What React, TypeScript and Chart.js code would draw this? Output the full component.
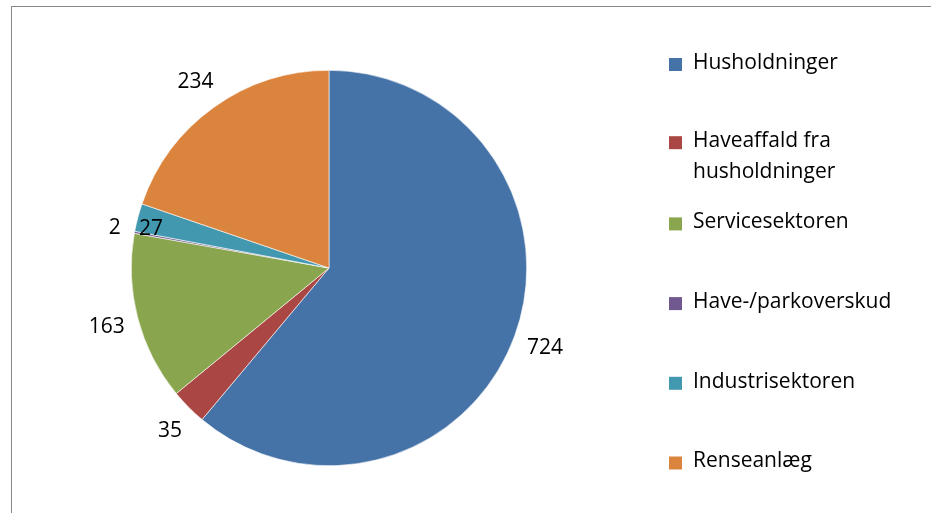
import React, { useEffect, useRef } from "react";
import { Chart, registerables } from "chart.js";

Chart.register(...registerables);

const categories = [
  "Husholdninger",
  "Haveaffald fra husholdninger",
  "Servicesektoren",
  "Have-/parkoverskud",
  "Industrisektoren",
  "Renseanlæg",
];
const values = [724, 35, 163, 2, 27, 234];
const colors = ["#4572A7", "#AA4643", "#89A54E", "#71588F", "#4198AF", "#DB843D"];

const FONT = '21px "Open Sans"';
const CAP_HALF = 7.3;

function wrap(ctx: CanvasRenderingContext2D, text: string, maxW: number): string[] {
  const words = text.split(" ");
  const lines: string[] = [];
  let cur = "";
  for (const w of words) {
    const t = cur ? cur + " " + w : w;
    if (ctx.measureText(t).width > maxW && cur) {
      lines.push(cur);
      cur = w;
    } else cur = t;
  }
  if (cur) lines.push(cur);
  return lines;
}

const framePlugin = {
  id: "frame",
  beforeDraw(chart: any) {
    const ctx = chart.ctx;
    ctx.save();
    ctx.fillStyle = "#ffffff";
    ctx.fillRect(0, 0, chart.width, chart.height);
    ctx.strokeStyle = "#888888";
    ctx.lineWidth = 1;
    ctx.strokeRect(11.5, 6.5, 3000, 3000);
    ctx.restore();
  },
};

const labelPlugin = {
  id: "pieLabels",
  afterDatasetsDraw(chart: any) {
    const ctx = chart.ctx;
    const meta = chart.getDatasetMeta(0);
    ctx.save();
    ctx.font = FONT;
    ctx.fillStyle = "#000000";
    ctx.textAlign = "center";
    ctx.textBaseline = "alphabetic";
    const placed: any[] = [];
    meta.data.forEach((arc: any, i: number) => {
      const p = arc.getProps(["x", "y", "startAngle", "endAngle", "outerRadius"], true);
      const mid = (p.startAngle + p.endAngle) / 2;
      const c = Math.cos(mid);
      const s = Math.sin(mid);
      const text = String(values[i]);
      const w = ctx.measureText(text).width;
      const hw = w / 2 + 1;
      const hh = 19;
      let cx = p.x + c * (p.outerRadius + 13) + c * hw;
      let cy = p.y + s * (p.outerRadius + 13) + s * hh;
      const th = 20;
      let box = { l: cx - w / 2, r: cx + w / 2, t: cy - th / 2, b: cy + th / 2, cy };
      for (const q of placed) {
        if (box.l < q.r && box.r > q.l && box.t < q.b && box.b > q.t) {
          cx = q.r + 18 + w / 2;
          cy = q.cy + 1;
          box = { l: cx - w / 2, r: cx + w / 2, t: cy - th / 2, b: cy + th / 2, cy };
        }
      }
      placed.push(box);
      ctx.fillText(text, cx, cy + CAP_HALF);
    });
    ctx.restore();
  },
};

const legendPlugin = {
  id: "customLegend",
  afterDraw(chart: any) {
    const ctx = chart.ctx;
    ctx.save();
    ctx.font = FONT;
    ctx.textAlign = "left";
    ctx.textBaseline = "alphabetic";
    const boxX = 669;
    const box = 13;
    const textX = 693;
    const firstY = 64.5;
    const step = 79.7;
    const lineH = 31;
    categories.forEach((label, i) => {
      const y = firstY + i * step - (i === 1 ? 1.5 : 0);
      ctx.fillStyle = colors[i];
      ctx.fillRect(boxX, y - box / 2, box, box);
      ctx.fillStyle = "#000000";
      const lines = wrap(ctx, label, 234);
      lines.forEach((ln, k) => ctx.fillText(ln, textX, y + 4.2 + k * lineH));
    });
    ctx.restore();
  },
};

export default function App() {
  const ref = useRef<HTMLCanvasElement | null>(null);
  useEffect(() => {
    if (!ref.current) return;
    const chart = new Chart(ref.current, {
      type: "pie",
      data: {
        labels: categories,
        datasets: [
          {
            data: values,
            backgroundColor: colors,
            borderColor: "#ffffff",
            borderWidth: 0.6,
          },
        ],
      },
      options: {
        responsive: false,
        animation: false,
        devicePixelRatio: 1,
        layout: { padding: { left: 131, right: 404, top: 70, bottom: 47 } },
        plugins: {
          legend: { display: false },
          tooltip: { enabled: false },
        },
      },
      plugins: [framePlugin, labelPlugin, legendPlugin],
    });
    return () => chart.destroy();
  }, []);
  return (
    <div style={{ position: "absolute", left: 0, top: 0, width: 931, height: 513 }}>
      <canvas ref={ref} width={931} height={513} style={{ display: "block" }} />
    </div>
  );
}
